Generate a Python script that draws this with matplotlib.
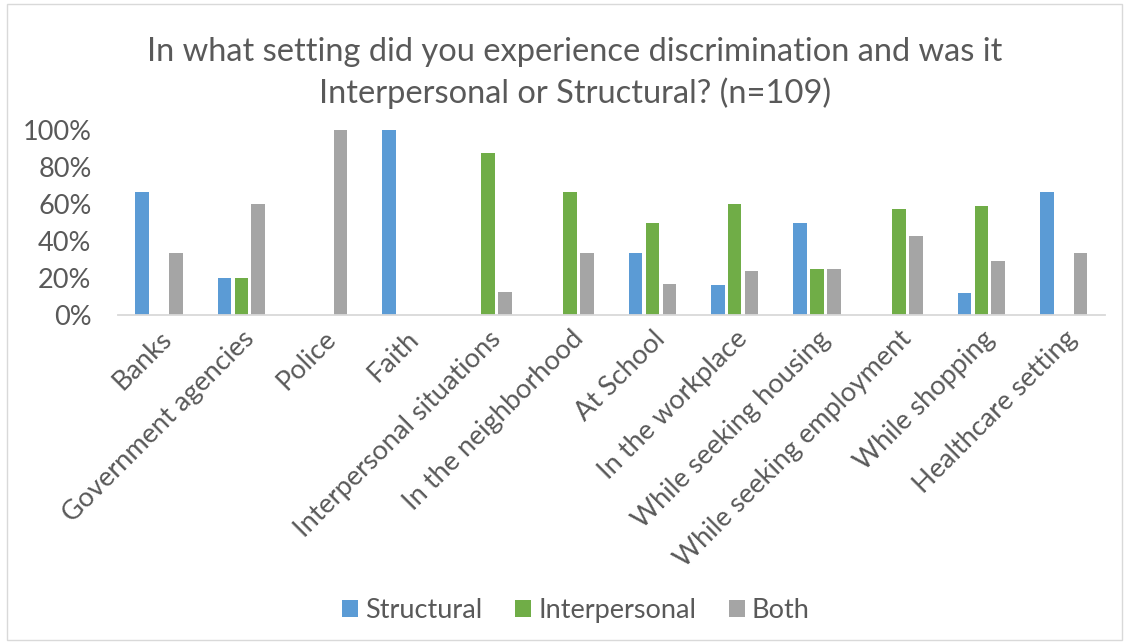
import matplotlib.pyplot as plt
import numpy as np
from matplotlib.patches import Rectangle

categories = ['Banks', 'Government agencies', 'Police', 'Faith', 'Interpersonal situations',
              'In the neighborhood', 'At School', 'In the workplace', 'While seeking housing',
              'While seeking employment', 'While shopping', 'Healthcare setting']
structural = [66.7, 20, 0, 100, 0, 0, 33.3, 16, 50, 0, 11.8, 66.7]
interpersonal = [0, 20, 0, 0, 87.5, 66.7, 50, 60, 25, 57.1, 58.8, 0]
both = [33.3, 60, 100, 0, 12.5, 33.3, 16.7, 24, 25, 42.9, 29.4, 33.3]
yticks = [0, 20, 40, 60, 80, 100]

plt.rcParams['font.family'] = ['Lato', 'DejaVu Sans']
txt = '#595959'

fig = plt.figure(figsize=(11.29, 6.44), dpi=100)
fig.patches.append(Rectangle((0.006, 0.006), 0.988, 0.988, transform=fig.transFigure,
                             fill=False, edgecolor='#d9d9d9', linewidth=1))
ax = fig.add_axes([0.1045, 0.511, 0.874, 0.287])

x = np.arange(len(categories))
w = 0.165
step = 0.205
ax.bar(x - step, structural, w, color='#5b9bd5', label='Structural')
ax.bar(x, interpersonal, w, color='#70ad47', label='Interpersonal')
ax.bar(x + step, both, w, color='#a5a5a5', label='Both')

ax.set_xlim(-0.5, len(categories) - 0.5)
ax.set_ylim(0, 100)
ax.set_yticks(yticks)
ax.set_yticklabels([f'{v}%' for v in yticks], fontsize=19.5, color=txt)
ax.set_xticks(x)
ax.set_xticklabels(categories, rotation=45, ha='right', rotation_mode='anchor',
                   fontsize=19.5, color=txt)
ax.tick_params(length=0)
ax.tick_params(axis='x', pad=8)
ax.tick_params(axis='y', pad=19)
for s in ['top', 'right', 'left']:
    ax.spines[s].set_visible(False)
ax.spines['bottom'].set_color('#d9d9d9')
ax.spines['bottom'].set_linewidth(1.3)

fig.text(0.509, 0.887, 'In what setting did you experience discrimination and was it\nInterpersonal or Structural? (n=109)',
         ha='center', va='center', fontsize=23.5, color=txt, linespacing=1.4)

fig.legend(loc='center', bbox_to_anchor=(0.51, 0.052), ncol=3, frameon=False,
           fontsize=19.5, labelcolor=txt, handlelength=0.6, handleheight=0.6,
           columnspacing=1.2, handletextpad=0.26)

fig.savefig('out.png', dpi=100)
